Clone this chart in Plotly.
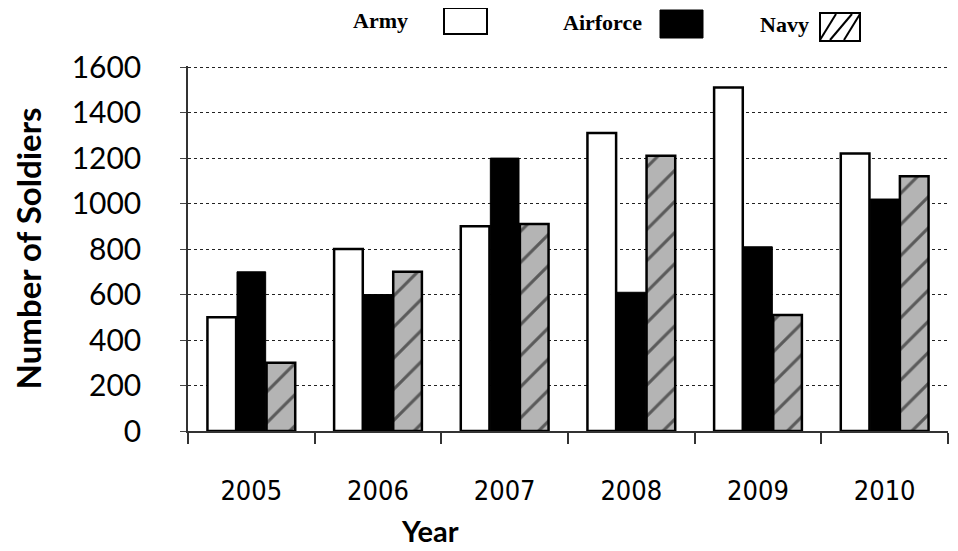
import plotly.graph_objects as go

years = ["2005", "2006", "2007", "2008", "2009", "2010"]
series_names = ["Army", "Airforce", "Navy"]
army = [500, 800, 900, 1310, 1510, 1220]
airforce = [700, 600, 1200, 610, 810, 1020]
navy = [300, 700, 910, 1210, 510, 1120]
y_ticks = [0, 200, 400, 600, 800, 1000, 1200, 1400, 1600]

# page offset (browser body margin)
OFF = 8
W, H = 958 - OFF, 551 - OFF
# target plot area in page pixels
PL, PR, PT, PB = 188, 948, 66, 431
L, T = PL - OFF, PT - OFF
R, B = W - (PR - OFF), H - (PB - OFF)
PW, PH = PR - PL, PB - PT


def px(x):
    return (x - PL) / PW


def py(y):
    return (PB - y) / PH


fig = go.Figure()
fig.add_trace(go.Bar(name=series_names[0], x=years, y=army,
                     marker=dict(color="white", line=dict(color="black", width=2.5))))
fig.add_trace(go.Bar(name=series_names[1], x=years, y=airforce,
                     marker=dict(color="black", line=dict(color="black", width=1))))
fig.add_trace(go.Bar(name=series_names[2], x=years, y=navy,
                     marker=dict(color="#a8a8a8", line=dict(color="black", width=2.5),
                                 pattern=dict(shape="/", fgcolor="black", bgcolor="#b4b4b4",
                                              size=22, solidity=0.14))))

fig.update_layout(
    width=W, height=H,
    margin=dict(l=L, r=R, t=T, b=B, autoexpand=False),
    paper_bgcolor="white", plot_bgcolor="white",
    barmode="group", bargap=0.3, bargroupgap=0.03,
    showlegend=False,
    font=dict(family="Lato, Open Sans, sans-serif", color="black"),
)
fig.update_xaxes(
    type="category", tickson="boundaries", ticks="outside", ticklen=11,
    tickcolor="#333", tickwidth=1.5, automargin=False,
    showline=True, linecolor="#333", linewidth=1.5, showgrid=False,
    tickfont=dict(family="DejaVu Sans Condensed, Lato, sans-serif", size=27, color="black"),
    ticklabelstandoff=35,
)
fig.update_yaxes(
    range=[0, 1605], tickvals=y_ticks, ticks="outside", ticklen=6,
    tickcolor="#444", tickwidth=1, automargin=False,
    showline=True, linecolor="#333", linewidth=1.5,
    showgrid=True, gridcolor="#222", gridwidth=1.3, griddash="dot",
    tickfont=dict(family="Lato, Open Sans, sans-serif", size=30, color="black"),
    ticklabelstandoff=33, zeroline=False,
    title=dict(text="<b>Number of Soldiers</b>", standoff=37,
               font=dict(family="Lato, Liberation Sans, sans-serif", size=33)),
)

# x axis title (offset left of centre, as in the source)
fig.add_annotation(text="<b>Year</b>", xref="paper", yref="paper",
                   x=px(430), y=py(530), showarrow=False, xanchor="center", yanchor="middle",
                   font=dict(family="Lato, Liberation Sans, sans-serif", size=29))

# custom legend (text left of swatch)
legend_text_pos = [(380, 21), (602, 22), (784, 24)]
for name, (tx, ty) in zip(series_names, legend_text_pos):
    fig.add_annotation(text="<b>%s</b>" % name, xref="paper", yref="paper",
                       x=px(tx), y=py(ty), showarrow=False, xanchor="center", yanchor="middle",
                       font=dict(family="Liberation Serif, Times New Roman, serif", size=22))

fig.add_shape(type="rect", xref="paper", yref="paper",
              x0=px(444), x1=px(487), y0=py(34), y1=py(8),
              line=dict(color="black", width=2), fillcolor="white")
fig.add_shape(type="rect", xref="paper", yref="paper",
              x0=px(660), x1=px(703), y0=py(38), y1=py(10),
              line=dict(color="black", width=1), fillcolor="black")
fig.add_shape(type="rect", xref="paper", yref="paper",
              x0=px(820), x1=px(860), y0=py(41), y1=py(13),
              line=dict(color="black", width=2), fillcolor="white")
for (a, b) in [(820, 836), (830, 852), (844, 860)]:
    fig.add_shape(type="line", xref="paper", yref="paper",
                  x0=px(a), x1=px(b), y0=py(40), y1=py(14),
                  line=dict(color="black", width=2))

fig.write_html("out.html")
